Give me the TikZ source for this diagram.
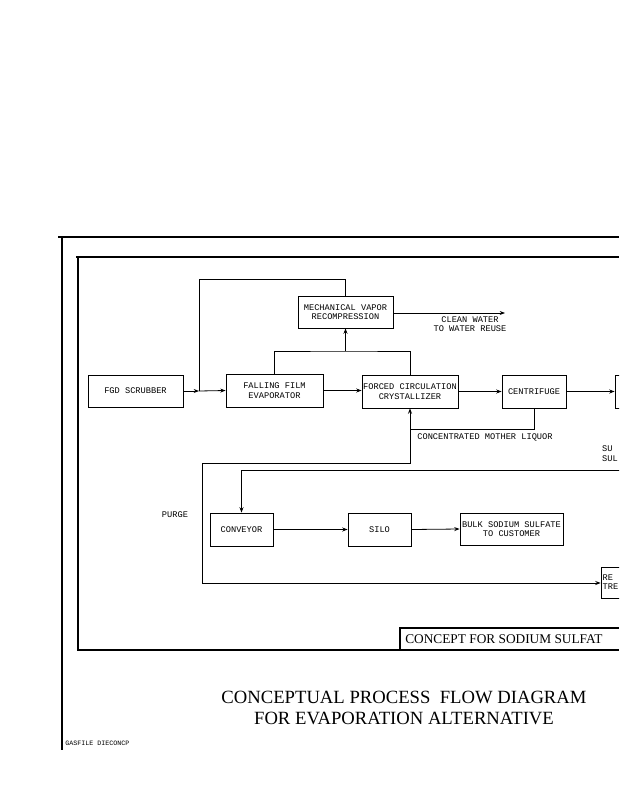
\documentclass[tikz,border=0pt]{standalone}
\usepackage{fontspec}
\setmainfont{Liberation Serif}
\newfontfamily\plotfont{Liberation Mono}
\usetikzlibrary{arrows.meta}
\begin{document}
\begin{tikzpicture}[x=0.75pt,y=-0.75pt,
  box/.style={draw,line width=0.6pt,inner sep=0pt,align=center,
    font=\plotfont\fontsize{6.5}{7.2}\selectfont},
  flow/.style={draw,line width=0.6pt,-{Stealth[length=4pt,width=3pt]}},
  pipe/.style={draw,line width=0.6pt},
  lbl/.style={inner sep=0pt,align=center,font=\plotfont\fontsize{6.5}{7.2}\selectfont},
  heavy/.style={draw,line width=1.5pt},
  thinframe/.style={draw,line width=0.8pt}]
\path[use as bounding box, fill=white] (0,0) rectangle (619,800);
\clip (0,0) rectangle (619,800);

% frames
\draw[heavy] (58,237) -- (619,237);
\draw[heavy] (62,237) -- (62,750);
\draw[thinframe] (76,257) -- (619,257);
\draw[thinframe] (78,257) -- (78,650) -- (619,650);
\draw[thinframe] (400,650) -- (400,628) -- (619,628);
\node[anchor=west,inner sep=0pt,font=\fontsize{10}{12}\selectfont] (concept) at (405,639) {CONCEPT FOR SODIUM SULFAT};

% process boxes
\node[box,minimum width=71.25pt,minimum height=24pt] (fgd) at (135.5,391) {FGD SCRUBBER};
\node[box,minimum width=72.75pt,minimum height=24.75pt] (ff) at (274.5,390.5) {FALLING FILM\\EVAPORATOR};
\node[box,minimum width=71.25pt,minimum height=24pt] (mvr) at (345.5,312) {MECHANICAL VAPOR\\RECOMPRESSION};
\node[box,minimum width=72pt,minimum height=24.75pt] (fc) at (410,391.5) {FORCED CIRCULATION\\CRYSTALLIZER};
\node[box,minimum width=48pt,minimum height=24.75pt] (cent) at (534,391.5) {CENTRIFUGE};
\node[box,minimum width=37.5pt,minimum height=24.75pt] (dry) at (640,391.5) {};
\node[box,minimum width=47.25pt,minimum height=24.75pt] (conv) at (241.5,529.5) {CONVEYOR};
\node[box,minimum width=47.25pt,minimum height=24.75pt] (silo) at (379.5,529.5) {SILO};
\node[box,minimum width=77.25pt,minimum height=24pt] (bulk) at (511.5,529) {BULK SODIUM SULFATE\\TO CUSTOMER};
\node[box,minimum width=37.5pt,minimum height=23.25pt] (rej) at (626,582.5) {};

% labels
\node[lbl] (clean) at (470,324) {CLEAN WATER\\TO WATER REUSE};
\node[lbl] (mother) at (485,437) {CONCENTRATED MOTHER LIQUOR};
\node[lbl] (purge) at (175,515) {PURGE};
\node[lbl,anchor=east,align=left] (sul) at (618,453.5) {SU\\SUL};
\node[lbl,anchor=east,align=left] (re) at (618.5,582) {RE\\TRE};

% coordinates
\coordinate (j1) at (199,391);
\coordinate (t1) at (199,279);
\coordinate (h) at (345.5,351);
\coordinate (cw) at (505,313);
\coordinate (ml) at (410,429);
\coordinate (p1) at (410,463);
\coordinate (p2) at (202,463);
\coordinate (p3) at (202,583);
\coordinate (b0) at (625,470);

% connectors
\draw[flow] (fgd.east) -- (j1);
\draw[flow] (j1) -- (ff.west);
\draw[pipe] (mvr.north) |- (t1) -- (j1);
\draw[flow] (ff.east) -- (ff.east -| fc.west);
\draw[pipe] (ff.north) |- (h) -| (fc.north);
\draw[flow] (h) -- (mvr.south);
\draw[flow] (mvr.east |- cw) -- (cw);
\draw[flow] (fc.east) -- (cent.west);
\draw[flow] (cent.east) -- (dry.west);
\draw[flow] (cent.south) |- (ml) -- (fc.south);
\draw[flow] (ml) -- (p1) -- (p2) -- (p3) -- (rej.west |- p3);
\draw[flow] (b0) -| (conv.north);
\draw[flow] (conv.east) -- (silo.west);
\draw[flow] (silo.east) -- (bulk.west);

% title
\node[align=center,inner sep=0pt,font=\fontsize{14}{16}\selectfont] (title) at (404,708) {CONCEPTUAL PROCESS\ \ FLOW DIAGRAM\\FOR EVAPORATION ALTERNATIVE};
\node[anchor=west,inner sep=0pt,font=\plotfont\fontsize{5}{6}\selectfont] (file) at (65,743) {GASFILE DIECONCP};
\end{tikzpicture}
\end{document}
